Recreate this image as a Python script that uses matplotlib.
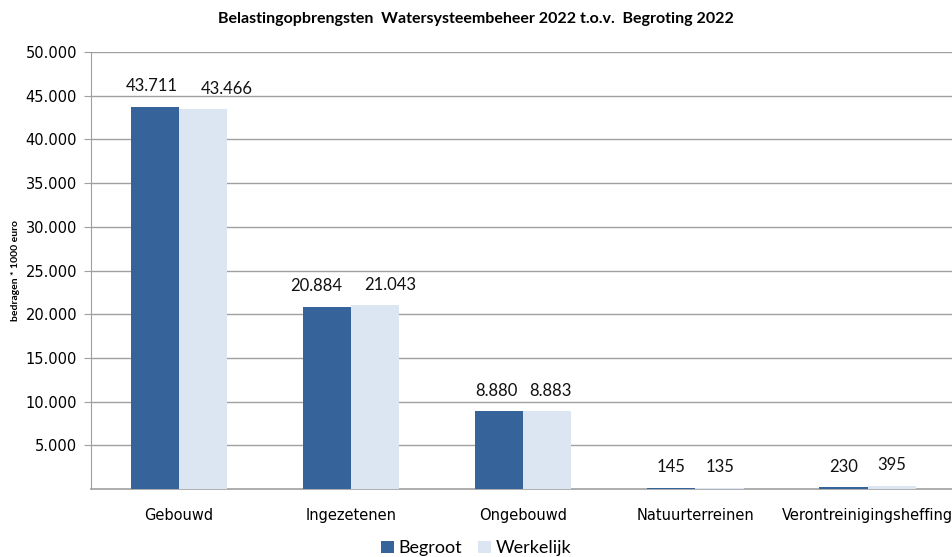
import numpy as np
import matplotlib.pyplot as plt
from matplotlib.ticker import FuncFormatter

categories = ['Gebouwd', 'Ingezetenen', 'Ongebouwd', 'Natuurterreinen', 'Verontreinigingsheffing']
begroot = [43711, 20884, 8880, 145, 230]
werkelijk = [43466, 21043, 8883, 135, 395]
yticks = [5000, 10000, 15000, 20000, 25000, 30000, 35000, 40000, 45000, 50000]

# small horizontal nudges of the value labels (points), as in the original
nudge_b = [-2, -8, -2, 0, 0]
nudge_w = [17, 11, 2, 0, 0]

plt.rcParams['font.family'] = ['DejaVu Sans']

fig = plt.figure(figsize=(9.52, 5.57), dpi=100)
ax = fig.add_axes([0.0956, 0.122, 0.9044, 0.7846])

x = np.arange(len(categories))
w = 0.28
b1 = ax.bar(x - w / 2, begroot, w, color='#36639A', label='Begroot', zorder=3)
b2 = ax.bar(x + w / 2, werkelijk, w, color='#DCE6F2', label='Werkelijk', zorder=3)

def fmt(v):
    return f'{v:,.0f}'.replace(',', '.')

for bars, nudge in ((b1, nudge_b), (b2, nudge_w)):
    for r, dx in zip(bars, nudge):
        ax.annotate(fmt(r.get_height()), (r.get_x() + r.get_width() / 2, r.get_height()),
                    xytext=(dx, 9), textcoords='offset points', ha='center', va='bottom',
                    fontsize=12, family='Lato', color='#111111')

ax.set_xlim(-0.51, 4.49)
ax.set_ylim(0, 50000)
ax.set_yticks(yticks)
ax.yaxis.set_major_formatter(FuncFormatter(lambda v, p: fmt(v)))
ax.grid(axis='y', color='#A0A0A0', linewidth=1, zorder=0)
ax.tick_params(axis='y', length=5, color='#A0A0A0', labelsize=10.5, pad=5)
ax.tick_params(axis='x', length=0, labelsize=10.5, pad=14)
ax.set_xticks(x)
ax.set_xticklabels(categories)
for s in ['top', 'right']:
    ax.spines[s].set_visible(False)
ax.spines['left'].set_color('#A0A0A0')
ax.spines['bottom'].set_color('#A0A0A0')
ax.spines['bottom'].set_linewidth(1.2)

ax.set_ylabel('bedragen * 1000 euro', fontsize=7.5, fontweight='bold', family='Lato', labelpad=4)
fig.text(0.5, 0.965, 'Belastingopbrengsten  Watersysteembeheer 2022 t.o.v.  Begroting 2022',
         ha='center', va='center', fontsize=11.5, fontweight='bold', family='Lato')

fig.legend(loc='lower center', bbox_to_anchor=(0.5, -0.028), ncol=2, frameon=False,
           handlelength=0.7, handleheight=0.7, handletextpad=0.25, columnspacing=0.9,
           prop={'family': 'Lato', 'size': 13})

fig.savefig('out.png', dpi=100)
